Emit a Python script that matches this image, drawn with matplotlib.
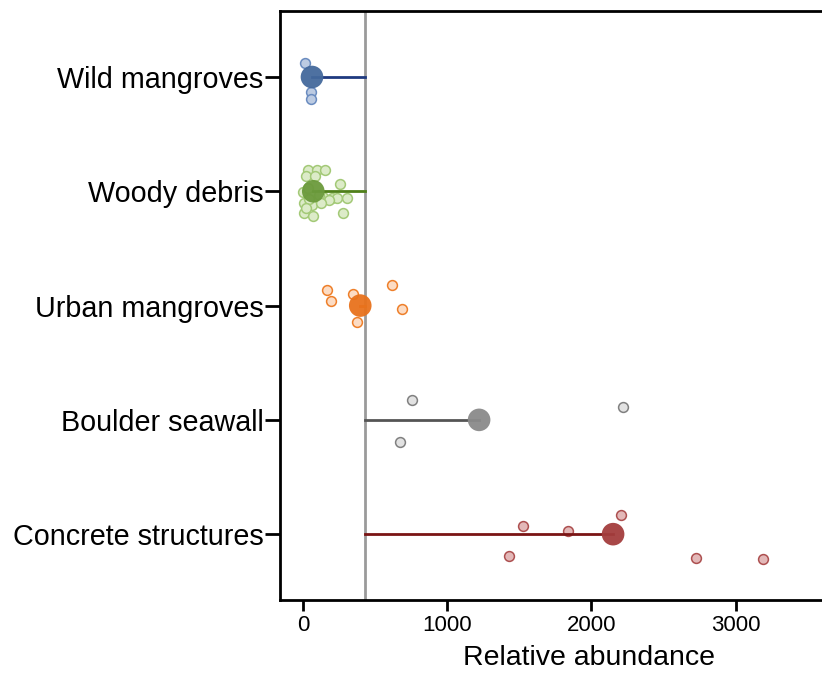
import matplotlib
matplotlib.use("Agg")
import matplotlib.pyplot as plt

plt.rcParams['font.family'] = ['Liberation Sans', 'DejaVu Sans']

categories = ["Wild mangroves", "Woody debris", "Urban mangroves",
              "Boulder seawall", "Concrete structures"]
means = [60, 69, 395, 1220, 2150]
ref_value = 428

wild_vals = [12, 53, 53]
wild_jit = [-0.12, 0.13, 0.19]
woody_vals = [35, 97, 151, 19, 81, 255, 0, 197, 236, 301, 139, 5, 58, 5, 65, 278,
              30, 110, 175, 40, 20, 120]
woody_jit = [-0.19, -0.19, -0.19, -0.13, -0.13, -0.06, 0.01, 0.06, 0.06, 0.06, 0.05,
             0.10, 0.12, 0.19, 0.22, 0.19, -0.03, 0.03, 0.08, 0.07, 0.15, 0.10]
urban_vals = [164, 192, 345, 616, 685, 373]
urban_jit = [-0.14, -0.04, -0.10, -0.18, 0.03, 0.14]
boulder_vals = [754, 2218, 671]
boulder_jit = [-0.17, -0.11, 0.19]
concrete_vals = [1528, 1838, 2205, 1430, 2725, 3193]
concrete_jit = [-0.07, -0.03, -0.17, 0.19, 0.21, 0.22]

point_vals = [wild_vals, woody_vals, urban_vals, boulder_vals, concrete_vals]
point_jit = [wild_jit, woody_jit, urban_jit, boulder_jit, concrete_jit]

mean_colors = ["#44699c", "#6b9a3c", "#e8721c", "#8a8a8a", "#a33d3d"]
line_colors = ["#1f3a80", "#4f8019", "#e8721c", "#555555", "#7a1414"]
pt_face = ["#bccbe2", "#dcebc8", "#fcdcc4", "#e2e2e2", "#e3b8b8"]
pt_edge = ["#6a8cc0", "#a3c977", "#ee7f2a", "#808080", "#ad5050"]

fig = plt.figure(figsize=(8.22, 6.74), dpi=100)
ax = fig.add_axes([280/822, 1-600/674, 1-280/822, (600-10.7)/674])

ax.axvline(ref_value, color="#9a9a9a", lw=2, zorder=1)
for i, cat in enumerate(categories):
    ys = [i + j for j in point_jit[i]]
    ax.scatter(point_vals[i], ys, s=50, facecolor=pt_face[i], edgecolor=pt_edge[i],
               linewidths=1.1, zorder=2)
    ax.plot([ref_value, means[i]], [i, i], color=line_colors[i], lw=2, zorder=3)
    ax.scatter([means[i]], [i], s=265, color=mean_colors[i], alpha=0.95,
               edgecolor="none", zorder=4)

ax.set_xlim(-162, 3600)
ax.set_ylim(4.576, -0.58)
ax.set_yticks(range(len(categories)))
ax.set_yticklabels(categories, fontsize=20.7)
ax.set_xticks([0, 1000, 2000, 3000])
ax.tick_params(axis='x', labelsize=16, length=8, width=2, pad=3)
ax.tick_params(axis='y', length=11, width=2, pad=1)
ax.set_xlabel("Relative abundance", fontsize=20.5)
ax.xaxis.set_label_coords(0.570, -0.077)
for s in ["left", "bottom", "top"]:
    ax.spines[s].set_linewidth(2)
ax.spines["right"].set_visible(False)

fig.savefig("out.png", dpi=100)
